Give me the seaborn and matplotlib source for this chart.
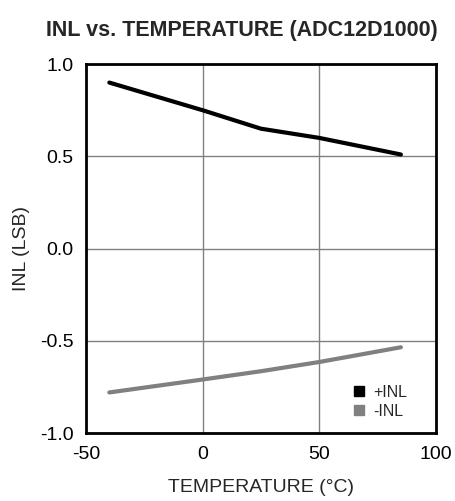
import pandas as pd
import matplotlib.pyplot as plt
import seaborn as sns
from matplotlib.lines import Line2D

# values
temperature = [-40, 0, 25, 50, 85]
inl_pos = [0.90, 0.75, 0.65, 0.60, 0.51]
inl_neg = [-0.78, -0.71, -0.665, -0.615, -0.535]
series_names = ["+INL", "-INL"]
series_colors = ["#000000", "#808080"]


def main():
    df = pd.DataFrame({
        "temp": temperature * 2,
        "inl": inl_pos + inl_neg,
        "series": [series_names[0]] * len(temperature) + [series_names[1]] * len(temperature),
    })

    sns.set_theme(style="white")
    plt.rcParams['font.family'] = ['Liberation Sans', 'DejaVu Sans']

    fig = plt.figure(figsize=(4.55, 5.01), dpi=100)
    ax = fig.add_axes([0.189, 0.1357, 0.769, 0.7363])

    sns.lineplot(data=df, x="temp", y="inl", hue="series", palette=series_colors,
                 linewidth=3, ax=ax, legend=False)

    ax.set_xlim(-50, 100)
    ax.set_ylim(-1.0, 1.0)
    ax.set_xticks([-50, 0, 50, 100])
    ax.set_yticks([-1.0, -0.5, 0.0, 0.5, 1.0])
    ax.set_yticklabels(["-1.0", "-0.5", "0.0", "0.5", "1.0"])
    ax.set_xticklabels(["-50", "0", "50", "100"])
    ax.tick_params(axis="both", labelsize=14, length=0, pad=9, colors="black")
    ax.grid(True, color="#808080", linewidth=1)

    for s in ax.spines.values():
        s.set_color("black")
        s.set_linewidth(2)

    ax.set_xlabel("TEMPERATURE (°C)", fontsize=14, labelpad=12)
    ax.set_ylabel("INL (LSB)", fontsize=14, labelpad=7)
    fig.text(0.532, 0.94, "INL vs. TEMPERATURE (ADC12D1000)", ha="center", va="center",
             fontsize=15.5, fontweight="bold")

    handles = [Line2D([], [], marker="s", linestyle="none", color=c, markersize=7.5)
               for c in series_colors]
    ax.legend(handles, series_names, loc="lower right", bbox_to_anchor=(0.96, 0.0),
              frameon=False, fontsize=11.5, handletextpad=0.4, labelspacing=0.25,
              handlelength=1.0)

    fig.savefig("out.png", dpi=100)


if __name__ == "__main__":
    main()
